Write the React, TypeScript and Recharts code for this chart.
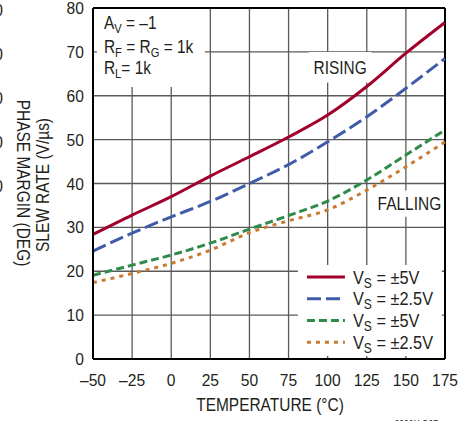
import React from 'react';
import { LineChart, Line, XAxis, YAxis, CartesianGrid, ReferenceArea, ReferenceLine } from 'recharts';

const FONT = "'Liberation Sans', Arial, sans-serif";
const INK = '#231f20';
const SX = 0.86;

const temperatures = [-50, -25, 0, 25, 50, 75, 100, 125, 150, 175];
const risingVs5 = [28.4, 32.8, 37.0, 41.7, 46.1, 50.6, 55.6, 62.1, 69.7, 76.7];
const risingVs25 = [24.6, 28.7, 32.4, 35.9, 40.0, 44.3, 49.5, 55.2, 61.7, 68.5];
const fallingVs5 = [19.1, 21.4, 23.7, 26.4, 29.6, 32.7, 36.0, 40.8, 46.5, 52.2];
const fallingVs25 = [17.4, 19.5, 21.8, 24.8, 28.8, 31.5, 34.0, 38.5, 43.8, 49.5];
const yTicks = [0, 10, 20, 30, 40, 50, 60, 70, 80];
const clippedLeftLabels = ['80', '70', '60', '50', '40'];

const series = [
  { key: 'r5', supply: '±5V', color: '#a0002b', dash: undefined as string | undefined },
  { key: 'r25', supply: '±2.5V', color: '#3f5ca9', dash: '14 5' },
  { key: 'f5', supply: '±5V', color: '#2e8b4a', dash: '8 4' },
  { key: 'f25', supply: '±2.5V', color: '#c97a31', dash: '4 5' },
];

const data = temperatures.map((t, i) => ({
  t,
  r5: risingVs5[i],
  r25: risingVs25[i],
  f5: fallingVs5[i],
  f25: fallingVs25[i],
}));

const fmtX = (v: number) => (v < 0 ? '–' + Math.abs(v) : String(v));

const CText = ({ x, y, size = 18, sx = SX, anchor = 'start', rotate = 0, baseline, children }: any) => (
  <text
    transform={`translate(${x},${y}) rotate(${rotate}) scale(${sx},1)`}
    textAnchor={anchor}
    dominantBaseline={baseline}
    fontSize={size}
    fontFamily={FONT}
    fill={INK}
  >
    {children}
  </text>
);

const XTick = (props: any) => {
  const { x, y, payload } = props;
  return <CText x={x} y={y + 13} size={17} sx={0.92} anchor="middle">{fmtX(payload.value)}</CText>;
};

const YTick = (props: any) => {
  const { x, y, payload } = props;
  return <CText x={x} y={y + 6} size={17} sx={0.92} anchor="end">{String(payload.value)}</CText>;
};

const AnnotationLabel = (props: any) => {
  const vb = props.viewBox || {};
  const x = vb.x + 7;
  const y = vb.y;
  return (
    <g>
      <CText x={x} y={y + 21}>
        A<tspan fontSize={13} dy={4}>V</tspan>
        <tspan dy={-4}> = –1</tspan>
      </CText>
      <CText x={x} y={y + 45}>
        R<tspan fontSize={13} dy={4}>F</tspan>
        <tspan dy={-4}> = R</tspan>
        <tspan fontSize={13} dy={4}>G</tspan>
        <tspan dy={-4}> = 1k</tspan>
      </CText>
      <CText x={x} y={y + 66}>
        R<tspan fontSize={13} dy={4}>L</tspan>
        <tspan dy={-4}>= 1k</tspan>
      </CText>
    </g>
  );
};

const CenterLabel = (text: string) => (props: any) => {
  const vb = props.viewBox || {};
  return (
    <CText x={vb.x + vb.width / 2} y={vb.y + vb.height / 2 + 6.5} anchor="middle">
      {text}
    </CText>
  );
};
const RisingLabel = CenterLabel('RISING');
const FallingLabel = CenterLabel('FALLING');

const LegendLabel = (props: any) => {
  const vb = props.viewBox || {};
  const x0 = vb.x;
  const y0 = vb.y;
  return (
    <g>
      {series.map((s, i) => {
        const cy = y0 + 12 + i * 21.7;
        return (
          <g key={s.key}>
            <line x1={x0 + 9} x2={x0 + 47} y1={cy} y2={cy} stroke={s.color} strokeWidth={3} strokeDasharray={s.dash} />
            <CText x={x0 + 55} y={cy + 6.5} size={19}>
              V<tspan fontSize={14} dy={4}>S</tspan>
              <tspan dy={-4}> = {s.supply}</tspan>
            </CText>
          </g>
        );
      })}
    </g>
  );
};

export default function App() {
  return (
    <div style={{ position: 'absolute', left: 0, top: 0, width: 459, height: 421, background: '#fff' }}>
      <LineChart width={459} height={421} data={data} margin={{ top: 8, right: 14, bottom: 0, left: 0 }}>
        <CartesianGrid stroke="#5a5a5a" strokeWidth={1.3} />
        <XAxis
          dataKey="t"
          type="number"
          domain={[-50, 175]}
          ticks={temperatures}
          height={62}
          tickSize={0}
          tickMargin={14}
          tickLine={false}
          axisLine={{ stroke: '#000', strokeWidth: 2 }}
          tick={<XTick />}
          interval={0}
        />
        <YAxis
          domain={[0, 80]}
          ticks={yTicks}
          width={93}
          tickSize={0}
          tickMargin={9}
          tickLine={false}
          axisLine={{ stroke: '#000', strokeWidth: 2 }}
          tick={<YTick />}
          interval={0}
        />
        <ReferenceArea x1={-47.5} x2={21.5} y1={62} y2={80} fill="#fff" fillOpacity={1} stroke="none" label={<AnnotationLabel />} />
        <ReferenceArea x1={88} x2={128} y1={63} y2={70} fill="#fff" fillOpacity={1} stroke="none" label={<RisingLabel />} />
        <ReferenceArea x1={130} x2={174.5} y1={32.4} y2={38.4} fill="#fff" fillOpacity={1} stroke="none" label={<FallingLabel />} />
        <ReferenceArea x1={81} x2={173} y1={0.7} y2={21.4} fill="#fff" fillOpacity={1} stroke="none" label={<LegendLabel />} />
        <ReferenceLine y={80} stroke="#000" strokeWidth={2} />
        <ReferenceLine x={175} stroke="#000" strokeWidth={2} />
        {series.map((s) => (
          <Line
            key={s.key}
            dataKey={s.key}
            type="monotone"
            stroke={s.color}
            strokeWidth={3}
            strokeDasharray={s.dash}
            dot={false}
            activeDot={false}
            isAnimationActive={false}
          />
        ))}
        <g>
          <CText x={270} y={411} anchor="middle">TEMPERATURE (°C)</CText>
          <CText x={43} y={185} rotate={-90} anchor="middle" baseline="central">SLEW RATE (V/µs)</CText>
          <CText x={23} y={183} rotate={90} anchor="middle" baseline="central">PHASE MARGIN (DEG)</CText>
          {clippedLeftLabels.map((l, i) => (
            <CText key={l} x={3} y={16 + i * 43.9} size={17} sx={0.92} anchor="end">
              {l}
            </CText>
          ))}
          <CText x={438} y={428} size={10} anchor="end">6806X G07</CText>
        </g>
      </LineChart>
    </div>
  );
}
